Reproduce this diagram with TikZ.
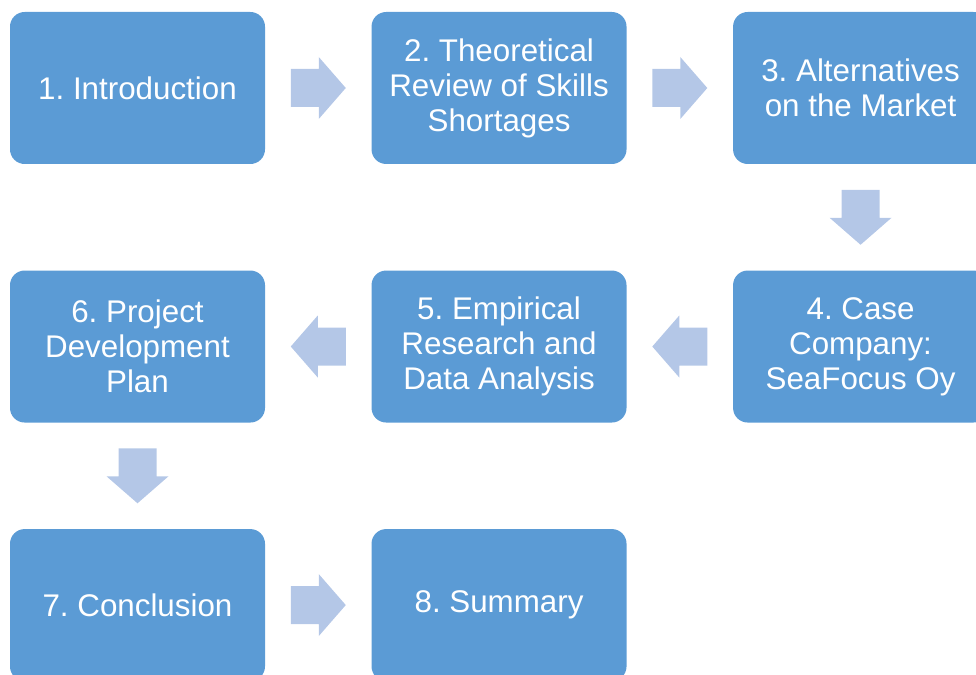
\documentclass[tikz,border=0pt]{standalone}
\usepackage{fontspec}
\setmainfont{Liberation Sans}
\usepackage{tikz}
\usetikzlibrary{positioning,calc}
\frenchspacing

\definecolor{boxblue}{HTML}{5B9BD5}
\definecolor{arrowblue}{HTML}{B4C7E7}

\tikzset{
  stagebox/.style={fill=boxblue, rounded corners=11pt, minimum width=191.25pt, minimum height=114pt,
    text=white, align=center, font=\fontsize{23.5}{26.3}\selectfont, inner sep=0pt},
  blockarrow/.pic={\fill[arrowblue] (-27.5,-19) -- (0.5,-19) -- (0.5,-31) -- (27.5,0) -- (0.5,31) -- (0.5,19) -- (-27.5,19) -- cycle;}
}

\begin{document}
\begin{tikzpicture} [x=0.75pt, y=0.75pt, node distance=79.5pt]

\useasboundingbox (0,0) rectangle (976,675);
\clip (0,0) rectangle (976,675);

\node [stagebox] (intro) at (137.5,587) {1. Introduction};
\node [stagebox, right=of intro] (review) {2. Theoretical\\Review of Skills\\Shortages};
\node [stagebox, right=of review] (market) {3. Alternatives\\on the Market};
\node [stagebox, below=of market] (case) {4. Case\\Company:\\SeaFocus Oy};
\node [stagebox, left=of case] (research) {5. Empirical\\Research and\\Data Analysis};
\node [stagebox, left=of research] (plan) {6. Project\\Development\\Plan};
\node [stagebox, below=of plan] (concl) {7. Conclusion};
\node [stagebox, right=of concl] (summary) {8. Summary};

\pic at ($(intro.east)!0.5!(review.west)$) {blockarrow};
\pic at ($(review.east)!0.5!(market.west)$) {blockarrow};
\pic [rotate=-90] at ($(market.south)!0.5!(case.north)$) {blockarrow};
\pic [rotate=180] at ($(case.west)!0.5!(research.east)$) {blockarrow};
\pic [rotate=180] at ($(research.west)!0.5!(plan.east)$) {blockarrow};
\pic [rotate=-90] at ($(plan.south)!0.5!(concl.north)$) {blockarrow};
\pic at ($(concl.east)!0.5!(summary.west)$) {blockarrow};

\end{tikzpicture}
\end{document}
